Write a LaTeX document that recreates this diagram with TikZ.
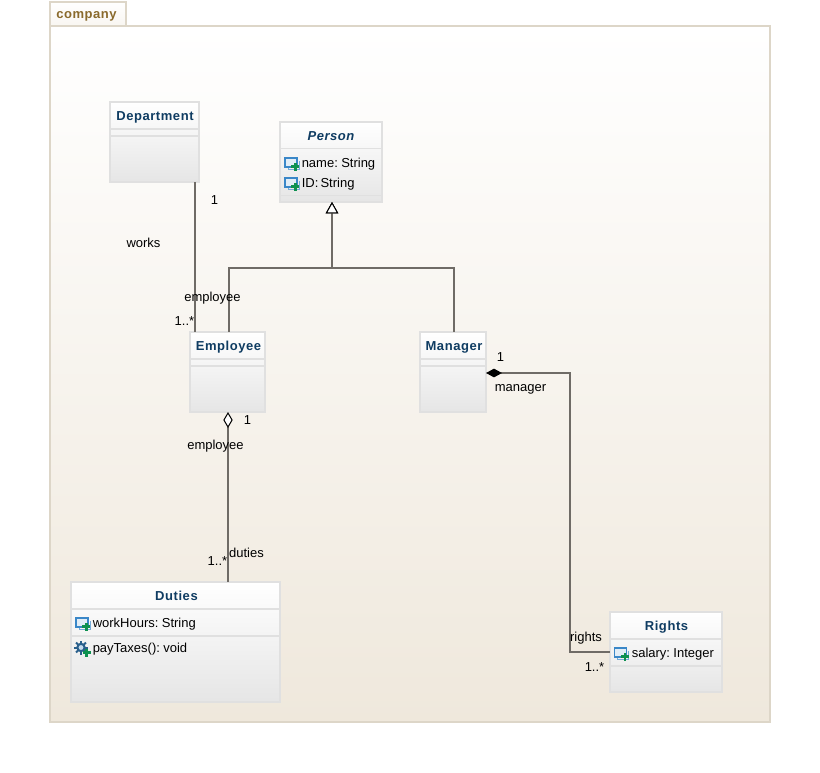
\documentclass[tikz,border=0pt]{standalone}
\usepackage{fontspec}
\setmainfont[WordSpace=0.6]{Liberation Sans}
\newfontfamily\umltitlefont[LetterSpace=4.3]{Liberation Sans}
\usetikzlibrary{arrows.meta}
\definecolor{boxedge}{HTML}{E0E0E0}
\definecolor{pkgedge}{HTML}{DDD6C8}
\definecolor{pkgbottom}{HTML}{EFE8DC}
\definecolor{titleblue}{HTML}{0F3C62}
\definecolor{pkgtext}{HTML}{8A6A2C}
\definecolor{linecol}{HTML}{6F6B66}
\definecolor{iconblue}{HTML}{3A87C8}
\definecolor{icongreen}{HTML}{0E9150}
\tikzset{
  x=0.75pt, y=-0.75pt,
  classbox/.style={draw=boxedge, line width=1.5pt, outer sep=0pt, top color=white, bottom color=black!10, inner sep=0pt, anchor=north west},
  sepline/.style={draw=boxedge, line width=1.1pt},
  classtitle/.style={font=\umltitlefont\bfseries\fontsize{9.75}{11}\selectfont, text=titleblue, anchor=base, inner sep=0pt},
  member/.style={font=\fontsize{9.75}{11}\selectfont, text=black, anchor=base west, inner sep=0pt},
  assoc/.style={font=\fontsize{9.75}{11}\selectfont, text=black, anchor=base, inner sep=0pt},
  conn/.style={draw=linecol, line width=0.95pt},
}
\newcommand{\classnode}[5]{% name, x1, y1, x2, y2
  \pgfmathsetmacro{\boxw}{(#4-#2)*0.75}\pgfmathsetmacro{\boxh}{(#5-#3)*0.75}
  \node[classbox, minimum width=\boxw pt, minimum height=\boxh pt] (#1) at (#2,#3) {};
}
\newcommand{\plusicon}[2]{% centre
  \fill[icongreen] (#1-1.3,#2-4) rectangle (#1+1.3,#2+4);
  \fill[icongreen] (#1-4,#2-1.3) rectangle (#1+4,#2+1.3);
}
\newcommand{\attricon}[2]{% x,y of the icon
  \draw[iconblue!70, line width=0.7pt] (#1+3,#2+5) -- (#1+3,#2+7.5) -- (#1+14,#2+7.5) -- (#1+14,#2-1);
  \draw[iconblue, line width=1pt, fill=white!85!iconblue] (#1,#2-4) rectangle (#1+12,#2+5);
  \plusicon{#1+10.3}{#2+4.7}
}
\newcommand{\opicon}[2]{%
  \fill[iconblue!70!black] (#1+5,#2+0.5) circle[radius=3.6pt];
  \foreach \a in {0,45,...,315} \draw[iconblue!70!black, line width=1.5pt] (#1+5,#2+0.5) -- ++(\a:7);
  \fill[white!70!iconblue] (#1+5,#2+0.5) circle[radius=1.8pt];
  \plusicon{#1+10.7}{#2+5.7}
}
\begin{document}
\begin{tikzpicture}
\useasboundingbox (0,0) rectangle (820,772);
\fill[white] (0,0) rectangle (820,772);
% package
\node[draw=pkgedge, line width=1.4pt, outer sep=0pt, top color=white, bottom color=white!60!pkgbottom, inner sep=0pt, minimum width=57pt, minimum height=18pt, anchor=north west] (tab) at (50,2) {};
\node[font=\umltitlefont\bfseries\fontsize{9.75}{11}\selectfont, text=pkgtext, anchor=base, inner sep=0pt] (tablabel) at (86.5,18) {company};
\node[draw=pkgedge, line width=1.4pt, outer sep=0pt, top color=white, bottom color=pkgbottom, inner sep=0pt, minimum width=540pt, minimum height=522pt, anchor=north west] (package) at (50,26) {};
% classes
\classnode{department}{110}{102}{199}{182}
\classnode{person}{280}{122}{382}{202}
\classnode{employee}{190}{332}{265}{412}
\classnode{manager}{420}{332}{486}{412}
\classnode{duties}{71}{582}{280}{702}
\classnode{rights}{610}{612}{722}{692}
% compartment lines
\draw[sepline] (110,129) -- (199,129) (110,136) -- (199,136);
\draw[sepline] (280,148.5) -- (382,148.5) (280,195.5) -- (382,195.5);
\draw[sepline] (190,359) -- (265,359) (190,366) -- (265,366);
\draw[sepline] (420,359) -- (486,359) (420,366) -- (486,366);
\draw[sepline] (71,609) -- (280,609) (71,636) -- (280,636);
\draw[sepline] (610,639) -- (722,639) (610,666) -- (722,666);
% titles
\node[classtitle] (tdept) at (155,120) {Department};
\node[classtitle] (tperson) at (331,140) {\itshape Person};
\node[classtitle] (temp) at (228.5,350) {Employee};
\node[classtitle] (tman) at (454,350) {Manager};
\node[classtitle] (tdut) at (176.5,600) {Duties};
\node[classtitle] (trig) at (666.5,630) {Rights};
% members
\attricon{285}{162}
\node[member] (m1) at (301.5,167) {name: String};
\attricon{285}{182}
\node[member] (m2) at (301.5,187.5) {ID: String};
\attricon{76}{622}
\node[member] (m3) at (92.5,627) {workHours: String};
\opicon{76}{647}
\node[member] (m4) at (92.5,652) {payTaxes(): void};
\attricon{614.5}{652}
\node[member] (m5) at (631.5,657) {salary: Integer};
% connectors
\coordinate (xdept) at (195,0);
\coordinate (xgenl) at (229,0);
\coordinate (xgen) at (332,0);
\coordinate (xgenr) at (454,0);
\coordinate (xdut) at (228,0);
\coordinate (ymid) at (0,268);
\coordinate (yman) at (0,373);
\coordinate (yrig) at (0,652);
\coordinate (xrig) at (570,0);
\draw[conn] (xdept |- department.south) -- (xdept |- employee.north);
\draw[conn, {Triangle[open, fill=white, length=8.6pt, width=9.5pt, line width=0.75pt, color=black]}-] (xgen |- person.south) -- (xgen |- ymid) -- (xgenl |- ymid) -- (xgenl |- employee.north);
\draw[conn, {Triangle[open, fill=white, length=8.6pt, width=9.5pt, line width=0.75pt, color=black]}-] (xgen |- person.south) -- (xgen |- ymid) -- (xgenr |- ymid) -- (xgenr |- manager.north);
\draw[conn, {Diamond[open, fill=white, length=12pt, width=7pt, line width=0.75pt, color=black]}-] (xdut |- employee.south) -- (xdut |- duties.north);
\draw[conn, {Diamond[fill=black, length=12pt, width=6.5pt, color=black]}-] (manager.east |- yman) -- (xrig |- yman) -- (xrig |- yrig) -- (rights.west |- yrig);
% association labels
\node[assoc] (l1) at (214.5,204.5) {1};
\node[assoc] (l2) at (143.5,247) {works};
\node[assoc] (l3) at (212.5,301) {employee};
\node[assoc] (l4) at (184.5,325) {1..*};
\node[assoc] (l5) at (247.5,424.5) {1};
\node[assoc] (l6) at (215.5,449) {employee};
\node[assoc] (l7) at (246.5,557) {duties};
\node[assoc] (l8) at (217.5,565) {1..*};
\node[assoc] (l9) at (500.5,361.5) {1};
\node[assoc] (l10) at (520.5,391) {manager};
\node[assoc] (l11) at (586,641) {rights};
\node[assoc] (l12) at (594.5,671) {1..*};
\end{tikzpicture}
\end{document}
